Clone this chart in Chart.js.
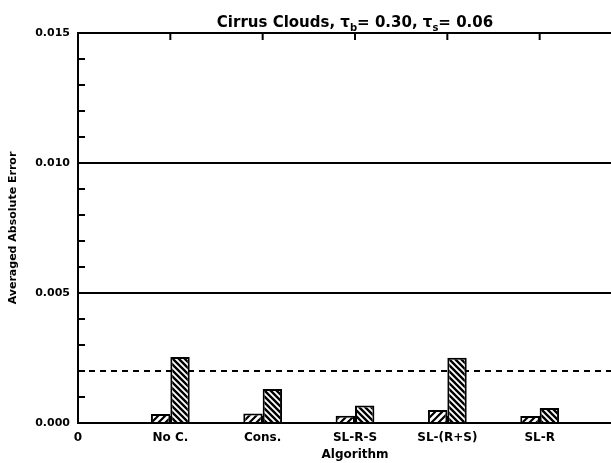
<!DOCTYPE html>
<html><head><meta charset="utf-8">
<script src="https://cdn.jsdelivr.net/npm/chart.js@4"></script>
<style>
html,body{margin:0;padding:0;overflow:hidden;background:#fff;width:611px;height:463px}
#wrap{position:absolute;left:0;top:0;width:640px;height:463px}
</style>
</head><body><div id="wrap"><canvas id="c" width="640" height="463"></canvas></div>
<script>
// ---- data ----
const categories = ['No C.', 'Cons.', 'SL-R-S', 'SL-(R+S)', 'SL-R'];
const tickLabels = ['0', ...categories, ''];
const seriesSmall = [0.00035, 0.00037, 0.00028, 0.00050, 0.00027];
const seriesLarge = [0.00254, 0.00131, 0.00067, 0.00251, 0.00058];
const referenceLevel = 0.002;
const yMin = 0, yMax = 0.015, yMajor = 0.005, yMinor = 0.001;
const titleParts = [
  {t: 'Cirrus Clouds, \u03c4'}, {t: 'b', sub: true},
  {t: '= 0.30, \u03c4'}, {t: 's', sub: true}, {t: '= 0.06'}
];
const yTitle = 'Averaged Absolute Error';
const xTitle = 'Algorithm';

const FONT = "'DejaVu Sans', 'Liberation Sans', sans-serif";

function hatch(dir, size, lw) {
  const c = document.createElement('canvas');
  c.width = c.height = size;
  const g = c.getContext('2d');
  g.fillStyle = '#fff'; g.fillRect(0, 0, size, size);
  g.strokeStyle = '#000'; g.lineWidth = lw; g.lineCap = 'square';
  g.beginPath();
  for (let k = -1; k <= 1; k++) {
    if (dir === '/') { g.moveTo(k * size, size); g.lineTo(k * size + size, 0); }
    else { g.moveTo(k * size, 0); g.lineTo(k * size + size, size); }
  }
  g.stroke();
  return g.createPattern(c, 'repeat');
}
const ctx = document.getElementById('c').getContext('2d');
const patSmall = hatch('/', 7, 2.2);
const patLarge = hatch('\\', 6, 2.4);

const isMajor = v => Math.abs(v / yMajor - Math.round(v / yMajor)) < 1e-6;

const framePlugin = {
  id: 'frame',
  beforeDatasetsDraw(chart) {
    const {ctx, chartArea: a, scales: {x, y}} = chart;
    ctx.save();
    ctx.strokeStyle = '#000'; ctx.lineWidth = 2;
    ctx.beginPath();
    x.ticks.forEach((t, i) => {
      const px = x.getPixelForTick(i);
      ctx.moveTo(px, a.top); ctx.lineTo(px, a.top + 7);
      ctx.moveTo(px, a.bottom); ctx.lineTo(px, a.bottom - 7);
    });
    y.ticks.forEach((t, i) => {
      const py = y.getPixelForTick(i);
      const len = isMajor(t.value) ? 10 : 7;
      ctx.moveTo(a.left, py); ctx.lineTo(a.left + len, py);
      ctx.moveTo(a.right, py); ctx.lineTo(a.right - len, py);
    });
    ctx.stroke();
    ctx.restore();
  },
  afterDatasetsDraw(chart) {
    const {ctx, chartArea: a} = chart;
    ctx.save();
    ctx.strokeStyle = '#000'; ctx.lineWidth = 2;
    ctx.strokeRect(a.left, a.top, a.right - a.left, a.bottom - a.top);
    ctx.restore();
  }
};

const titlePlugin = {
  id: 'subTitle',
  afterDraw(chart) {
    const {ctx, chartArea: a} = chart;
    const big = 'bold 15px ' + FONT, small = 'bold 10px ' + FONT;
    ctx.save();
    ctx.fillStyle = '#000';
    ctx.textBaseline = 'alphabetic';
    let w = 0;
    titleParts.forEach(p => { ctx.font = p.sub ? small : big; w += ctx.measureText(p.t).width; });
    let x = (a.left + a.right) / 2 - w / 2;
    const base = 27;
    titleParts.forEach(p => {
      ctx.font = p.sub ? small : big;
      ctx.fillText(p.t, x, p.sub ? base + 4 : base);
      x += ctx.measureText(p.t).width;
    });
    ctx.restore();
  }
};

new Chart(ctx, {
  type: 'bar',
  data: {
    labels: tickLabels,
    datasets: [
      {
        data: [null, ...seriesSmall, null],
        backgroundColor: patSmall, borderColor: '#000', borderWidth: 2,
        categoryPercentage: 0.42, barPercentage: 1, order: 1
      },
      {
        data: [null, ...seriesLarge, null],
        backgroundColor: patLarge, borderColor: '#000', borderWidth: 2,
        categoryPercentage: 0.42, barPercentage: 1, order: 1
      },
      {
        type: 'line',
        data: tickLabels.map(() => referenceLevel),
        borderColor: '#000', borderWidth: 2, borderDash: [6, 5],
        pointRadius: 0, fill: false, order: 5
      }
    ]
  },
  options: {
    responsive: false, animation: false, devicePixelRatio: 1,
    layout: {padding: {top: 33, right: 4, left: 0, bottom: 0}},
    plugins: {legend: {display: false}, tooltip: {enabled: false}, title: {display: false}},
    scales: {
      x: {
        type: 'category', offset: false,
        grid: {display: false, drawTicks: false},
        border: {display: false},
        ticks: {color: '#000', font: {family: FONT, size: 12, weight: 'bold'}, padding: 8,
                maxRotation: 0, autoSkip: false},
        title: {display: true, text: xTitle, color: '#000',
                font: {family: FONT, size: 12, weight: 'bold'}, padding: {top: 0, bottom: 1}},
        afterFit: s => { s.height = 40; }
      },
      y: {
        min: yMin, max: yMax,
        grid: {drawTicks: false, lineWidth: 2,
               color: c => (c.tick && isMajor(c.tick.value)) ? '#000' : 'rgba(0,0,0,0)'},
        border: {display: false},
        ticks: {stepSize: yMinor, autoSkip: false, color: '#000', padding: 8,
                font: {family: FONT, size: 11, weight: 'bold'},
                callback: v => isMajor(v) ? (Math.round(v / yMajor) * yMajor).toFixed(3) : ''},
        title: {display: true, text: yTitle, color: '#000',
                font: {family: FONT, size: 11, weight: 'bold'}, padding: {top: 7, bottom: 0}},
        afterFit: s => { s.width = 78; }
      }
    }
  },
  plugins: [framePlugin, titlePlugin]
});
</script></body></html>
